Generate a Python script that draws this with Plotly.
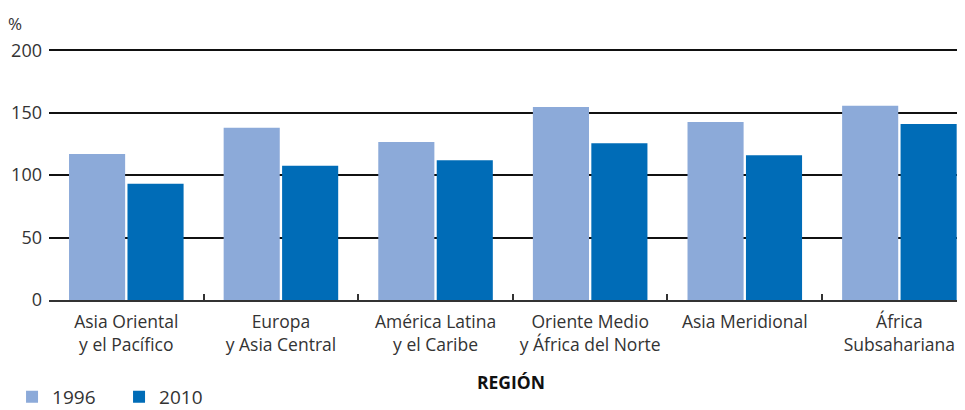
import plotly.graph_objects as go

categories = ["Asia Oriental<br>y el Pacífico", "Europa<br>y Asia Central", "América Latina<br>y el Caribe",
              "Oriente Medio<br>y África del Norte", "Asia Meridional", "África<br>Subsahariana"]
values_1996 = [117, 138, 126.5, 154.5, 142.5, 155.5]
values_2010 = [93, 107.5, 112, 125.5, 116, 141]
y_ticks = [0, 50, 100, 150, 200]

FONT = "Open Sans"
TXT = "#333333"

fig = go.Figure()
fig.add_trace(go.Bar(x=categories, y=values_1996, name="1996", marker_color="#8CAAD9", marker_line_width=0))
fig.add_trace(go.Bar(x=categories, y=values_2010, name="2010", marker_color="#006CB7", marker_line_width=0))

fig.update_layout(
    width=965, height=410,
    margin=dict(l=40.5, r=0, t=40.75, b=117.5, autoexpand=False),
    paper_bgcolor="white", plot_bgcolor="white",
    barmode="group", bargap=0.244, bargroupgap=0.04,
    font=dict(family=FONT, size=18, color=TXT),
    showlegend=True,
    legend=dict(orientation="h", x=-0.04, xanchor="left", y=-0.31, yanchor="top",
                font=dict(family=FONT, size=19, color=TXT), traceorder="normal",
                itemwidth=30, entrywidth=62, entrywidthmode="pixels",
                bgcolor="rgba(0,0,0,0)", tracegroupgap=0),
    xaxis=dict(type="category", range=[-0.5, 5.476], tickson="boundaries", ticks="inside",
               ticklen=6, tickcolor="#333333", tickwidth=1.5, showline=True, linecolor="#333333",
               linewidth=1.5, showgrid=False, tickfont=dict(family=FONT, size=17.5, color=TXT),
               ticklabelstandoff=5, automargin=False,
               title=dict(text="<b>REGIÓN</b>", font=dict(family=FONT, size=17.5, color="#111111"), standoff=22)),
    yaxis=dict(range=[0, 201], tickvals=y_ticks, showgrid=True, gridcolor="#111111", gridwidth=1.5,
               zeroline=False, showline=False, ticks="", tickfont=dict(family=FONT, size=18, color=TXT),
               ticklabelstandoff=6, automargin=False),
    annotations=[dict(text="%", xref="paper", yref="paper", x=-0.046, y=1.10, xanchor="left", yanchor="middle",
                      showarrow=False, font=dict(family=FONT, size=17, color=TXT))],
)

fig.write_html("out.html")
